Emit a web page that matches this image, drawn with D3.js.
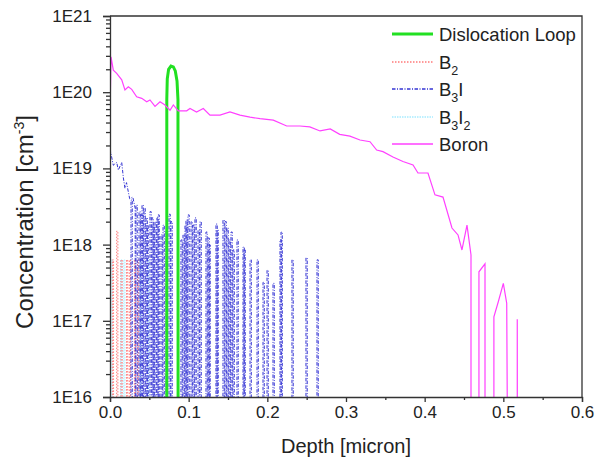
<!DOCTYPE html>
<html>
<head>
<meta charset="utf-8">
<script src="https://cdn.jsdelivr.net/npm/d3@7"></script>
<style>
  html, body { margin: 0; padding: 0; background: #fff; }
  svg text { font-family: "Liberation Sans", Arial, sans-serif; fill: #222; }
</style>
</head>
<body>
<div id="chart"></div>
<script>
// depth [micron], concentration [cm-3]; 0 = nothing at that depth
const loop = [
  [0.0722, 0], [0.0722, 8e19], [0.0728, 1.5e20], [0.0745, 2.0e20], [0.0775, 2.2e20],
  [0.0805, 2.15e20], [0.083, 1.9e20], [0.0852, 1.4e20], [0.0864, 8e19], [0.0866, 0]
];

const boron = [
  [0, 5e19], [0.0013, 2.9e20], [0.0042, 1.95e20], [0.0085, 1.77e20], [0.0149, 1.45e20],
  [0.019, 1.07e20], [0.0233, 1.18e20], [0.0276, 1.09e20], [0.0339, 8.7e19], [0.0403, 8.3e19],
  [0.0467, 7.5e19], [0.0508, 7.9e19], [0.0572, 6.5e19], [0.0636, 7.5e19], [0.0699, 6.8e19],
  [0.0763, 5.8e19], [0.0805, 6.8e19], [0.0868, 5.7e19], [0.0975, 5.7e19], [0.1017, 6.1e19],
  [0.110, 5.5e19], [0.1186, 6.1e19], [0.1271, 5.0e19], [0.1398, 5.0e19], [0.1525, 5.5e19],
  [0.1652, 5.0e19], [0.178, 4.7e19], [0.1907, 4.5e19], [0.2076, 4.3e19], [0.2246, 3.6e19],
  [0.2415, 3.6e19], [0.254, 3.5e19], [0.267, 3.1e19], [0.28, 3.3e19], [0.292, 2.8e19],
  [0.305, 2.65e19], [0.3178, 2.36e19], [0.3305, 2.24e19], [0.339, 1.74e19], [0.347, 1.66e19],
  [0.3597, 1.41e19], [0.3724, 1.23e19], [0.3852, 1.11e19], [0.3915, 8.7e18], [0.4042, 8.7e18],
  [0.4131, 4.5e18], [0.4233, 4.2e18], [0.4347, 1.65e18], [0.4424, 1.34e18], [0.4474, 8.5e17],
  [0.4538, 1.8e18], [0.4589, 7.3e17], [0.4589, 0], [0.469, 0], [0.469, 4.4e17],
  [0.4767, 5.6e17], [0.4767, 0], [0.488, 0], [0.488, 1.13e17], [0.4936, 1.78e17],
  [0.5, 3.1e17], [0.5043, 1.7e17], [0.5055, 0], [0.5177, 0], [0.5177, 1.05e17], [0.5179, 0]
];

// B3I: continuous near the surface, then isolated spikes
const b3iHead = [
  [0, 1.8e19], [0.0013, 1.55e19], [0.0042, 1.1e19], [0.0085, 1.2e19], [0.0106, 9.5e18],
  [0.0149, 1.2e19], [0.017, 7.5e18], [0.019, 5.5e18], [0.021, 6.5e18], [0.025, 4e18],
  [0.029, 4.2e18], [0.032, 3e18], [0.032, 0]
];
const b3iSpikes = [
  [0.0267, 3.85e18], [0.033, 3.3e18], [0.0369, 2.7e18], [0.0394, 2.45e18], [0.0407, 3.3e18],
  [0.0432, 3.0e18], [0.0458, 2.24e18], [0.047, 1.8e18], [0.0508, 2.7e18], [0.0534, 2.24e18],
  [0.0547, 1.8e18], [0.0572, 2.0e18], [0.0597, 2.24e18], [0.061, 2.45e18], [0.0648, 1.34e18],
  [0.0674, 1.8e18], [0.0712, 1.56e18], [0.075, 2.5e18], [0.0775, 2.0e18], [0.0902, 1.15e18],
  [0.0928, 1.34e18], [0.0953, 1.8e18], [0.0966, 2.1e18], [0.0991, 2.45e18], [0.103, 2.0e18],
  [0.1055, 1.8e18], [0.108, 2.24e18], [0.1119, 1.56e18], [0.1144, 2.0e18], [0.122, 1.46e18],
  [0.1246, 1.22e18], [0.1258, 9.9e17], [0.1347, 1.86e18], [0.136, 1.56e18], [0.1436, 2.1e18],
  [0.1462, 2.0e18], [0.1487, 1.65e18], [0.1513, 1.15e18], [0.1538, 1.46e18], [0.1564, 8.5e17],
  [0.1614, 1.15e18], [0.1691, 9.3e17], [0.1703, 8.5e17], [0.178, 6.3e17], [0.1869, 6.3e17],
  [0.1945, 3.2e17], [0.1996, 4.6e17], [0.2072, 3.1e17], [0.2161, 1.15e18], [0.2174, 1.46e18],
  [0.2313, 6.3e17], [0.2491, 6.7e17], [0.2631, 6.3e17]
];
const b2Spikes = [
  [0.003, 6.3e17], [0.0085, 1.5e18], [0.014, 6.3e17], [0.021, 6.3e17], [0.0245, 6.3e17],
  [0.031, 6.3e17], [0.035, 6.3e17]
];
const b3i2Spikes = [
  [0.0012, 6.3e17], [0.0135, 6.3e17], [0.0175, 6.3e17], [0.038, 6.3e17], [0.048, 6.3e17]
];

const yTicks = [1e16, 1e17, 1e18, 1e19, 1e20, 1e21];
const xTicks = [0, 0.1, 0.2, 0.3, 0.4, 0.5, 0.6];

const legendItems = [
  { name: 'Dislocation Loop', sub: [], color: '#22e022', width: 3, dash: null },
  { name: 'B', sub: [['2', '']], color: '#ff7a7a', width: 1, dash: '1.5,1.5' },
  { name: 'B', sub: [['3', 'I']], color: '#3434d4', width: 1, dash: '3.5,1.5,1,1.5' },
  { name: 'B', sub: [['3', 'I'], ['2', '']], color: '#a8ecff', width: 1, dash: '1.5,1' },
  { name: 'Boron', sub: [], color: '#ff40ff', width: 1.2, dash: null }
];

const width = 595, height = 459;
const pLeft = 110, pRight = 582, pTop = 16, pBottom = 397;
const FLOOR = 1e15;

const x = d3.scaleLinear().domain([0, 0.6]).range([pLeft, pRight]);
const y = d3.scaleLog().domain([1e16, 1e21]).range([pBottom, pTop]);

const svg = d3.select('#chart').append('svg')
  .attr('width', width)
  .attr('height', height);

svg.append('clipPath').attr('id', 'plot-clip')
  .append('rect')
  .attr('x', pLeft).attr('y', pTop)
  .attr('width', pRight - pLeft).attr('height', pBottom - pTop);

const line = d3.line()
  .x(d => x(d[0]))
  .y(d => y(Math.max(d[1], FLOOR)));

// spikes rise from the floor and fall back to it
const spikePath = (spikes, w) => {
  const pts = [];
  spikes.forEach(s => {
    pts.push([s[0], 0], [s[0], s[1]], [s[0] + w, s[1]], [s[0] + w, 0]);
  });
  return pts;
};

const plot = svg.append('g').attr('clip-path', 'url(#plot-clip)');

const draw = (data, item) => {
  plot.append('path')
    .attr('d', line(data))
    .attr('fill', 'none')
    .attr('stroke', item.color)
    .attr('stroke-width', item.width)
    .attr('stroke-dasharray', item.dash);
};

draw(spikePath(b3i2Spikes, 0.0015), legendItems[3]);
draw(spikePath(b2Spikes, 0.0015), legendItems[1]);
draw(b3iHead.concat(spikePath(b3iSpikes, 0.0016)), legendItems[2]);
draw(loop, legendItems[0]);
draw(boron, legendItems[4]);

// axes
const yAxis = d3.axisLeft(y)
  .tickValues(yTicks)
  .tickFormat(d => '1E' + Math.round(Math.log10(d)))
  .tickSize(7)
  .tickPadding(11);

const minorY = [];
for (let e = 16; e < 21; e++) {
  for (let m = 2; m < 10; m++) minorY.push(m * Math.pow(10, e));
}

svg.append('g')
  .attr('transform', `translate(${pLeft},0)`)
  .call(d3.axisLeft(y).tickValues(minorY).tickFormat('').tickSize(4))
  .call(g => g.select('.domain').remove());

const yg = svg.append('g')
  .attr('transform', `translate(${pLeft},0)`)
  .call(yAxis);
yg.selectAll('text').style('font-size', '17px');

const xAxis = d3.axisBottom(x)
  .tickValues(xTicks)
  .tickFormat(d3.format('.1f'))
  .tickSize(5)
  .tickPadding(4);

svg.append('g')
  .attr('transform', `translate(0,${pBottom})`)
  .call(d3.axisBottom(x).tickValues([0.05, 0.15, 0.25, 0.35, 0.45, 0.55]).tickFormat('').tickSize(3))
  .call(g => g.select('.domain').remove());

const xg = svg.append('g')
  .attr('transform', `translate(0,${pBottom})`)
  .call(xAxis);
xg.selectAll('text').style('font-size', '17px');

svg.selectAll('.domain, .tick line').attr('stroke', '#333').attr('stroke-width', 1.3);

// frame: top and right
svg.append('path')
  .attr('d', `M${pLeft},${pTop}H${pRight}V${pBottom}`)
  .attr('fill', 'none')
  .attr('stroke', '#333')
  .attr('stroke-width', 1.3);

// axis titles
svg.append('text')
  .attr('x', (pLeft + pRight) / 2)
  .attr('y', 453)
  .attr('text-anchor', 'middle')
  .style('font-size', '20px')
  .text('Depth [micron]');

const yt = svg.append('text')
  .attr('transform', 'translate(33,222) rotate(-90)')
  .attr('text-anchor', 'middle')
  .style('font-size', '24px');
yt.append('tspan').text('Concentration [cm');
yt.append('tspan').attr('dy', -9).style('font-size', '14px').text('-3');
yt.append('tspan').attr('dy', 9).text(']');

// legend
const legend = svg.append('g').attr('id', 'legend');
legendItems.forEach((d, i) => {
  const ly = 34 + Math.round(i * 27.5);
  legend.append('line')
    .attr('x1', 392).attr('x2', 433)
    .attr('y1', ly).attr('y2', ly)
    .attr('stroke', d.color)
    .attr('stroke-width', d.width === 3 ? 3 : 1.4)
    .attr('stroke-dasharray', d.dash);
  const t = legend.append('text')
    .attr('x', 439)
    .attr('y', ly + 6.5)
    .style('font-size', '18.5px');
  t.append('tspan').text(d.name);
  d.sub.forEach(s => {
    t.append('tspan').attr('dy', 6).style('font-size', '12.5px').text(s[0]);
    if (s[1]) t.append('tspan').attr('dy', -6).text(s[1]);
  });
});
</script>
</body>
</html>
